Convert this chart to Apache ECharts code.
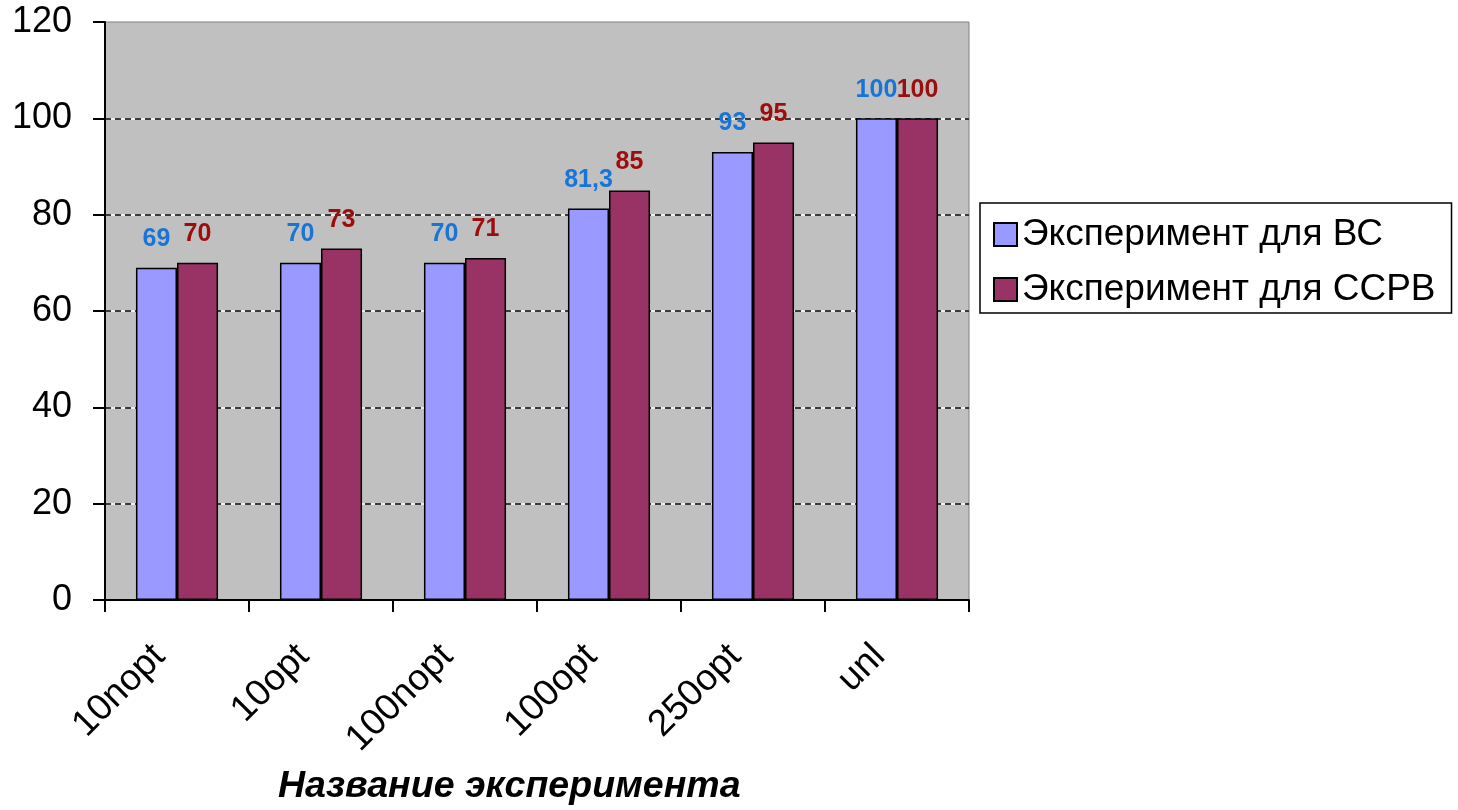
<!DOCTYPE html>
<html>
<head>
<meta charset="utf-8">
<script src="https://cdn.jsdelivr.net/npm/echarts@6/dist/echarts.min.js"></script>
<style>
  html, body { margin: 0; padding: 0; background: #ffffff; }
  #chart { width: 1458px; height: 810px; }
</style>
</head>
<body>
<div id="chart"></div>
<script>
// Experiment names along the category axis
const categories = ['10nopt', '10opt', '100nopt', '100opt', '250opt', 'unl'];
// Results per experiment
const seriesBC = [69, 70, 70, 81.3, 93, 100];
const seriesCCRB = [70, 73, 71, 85, 95, 100];
const seriesNames = ['Эксперимент для ВС', 'Эксперимент для ССРВ'];
const axisTitle = 'Название эксперимента';
// Value axis range
const yMin = 0, yMax = 120, yStep = 20;

const FONT = '"Liberation Sans", Arial, sans-serif';
const hideEnds = ['rgba(0,0,0,0)', '#000', '#000', '#000', '#000', '#000', 'rgba(0,0,0,0)'];
const whiteEnds = ['rgba(0,0,0,0)', '#fff', '#fff', '#fff', '#fff', '#fff', 'rgba(0,0,0,0)'];

const fmt = p => String(p.value).replace('.', ',');

const chart = echarts.init(document.getElementById('chart'), null, { renderer: 'canvas' });
chart.setOption({
  animation: false,
  backgroundColor: '#ffffff',
  textStyle: { fontFamily: FONT },
  title: {
    text: axisTitle,
    left: 278,
    top: 767,
    padding: 0,
    textStyle: { fontFamily: FONT, fontSize: 37.5, fontWeight: 'bold', fontStyle: 'italic', color: '#000', lineHeight: 40 }
  },
  legend: {
    orient: 'vertical',
    left: 980,
    top: 203,
    padding: [13, 16, 5, 13],
    itemWidth: 23,
    itemHeight: 23,
    itemGap: 18,
    itemTextGap: 20,
    icon: 'rect',
    backgroundColor: '#ffffff',
    borderColor: '#000',
    borderWidth: 1.5,
    borderRadius: 0,
    textStyle: { fontFamily: FONT, fontSize: 37, color: '#000', lineHeight: 36 },
    data: seriesNames
  },
  grid: {
    left: 105, top: 22, right: 489, bottom: 210,
    show: true,
    backgroundColor: '#c0c0c0',
    borderColor: '#808080',
    borderWidth: 1
  },
  xAxis: {
    type: 'category',
    data: categories,
    axisLine: { lineStyle: { color: '#000', width: 2 } },
    axisTick: { show: true, alignWithLabel: false, length: 12, lineStyle: { color: '#000', width: 2 } },
    axisLabel: { rotate: 45, interval: 0, margin: 33, padding: [0, 25, 0, 0], fontSize: 37, color: '#000', fontFamily: FONT },
    splitLine: { show: false }
  },
  yAxis: [
    {
      type: 'value',
      min: yMin, max: yMax, interval: yStep,
      z: 1,
      axisLine: { show: true, lineStyle: { color: '#000', width: 2 } },
      axisTick: { show: true, length: 12, lineStyle: { color: '#000', width: 2 } },
      axisLabel: { margin: 33, fontSize: 36, color: '#000', fontFamily: FONT },
      splitLine: { show: true, lineStyle: { color: hideEnds, width: 1.5, type: [6, 4] } }
    },
    {
      type: 'value',
      min: yMin, max: yMax, interval: yStep,
      z: 0,
      axisLine: { show: false },
      axisTick: { show: false },
      axisLabel: { show: false },
      splitLine: { show: true, lineStyle: { color: whiteEnds, width: 1.5, type: 'solid' } }
    }
  ],
  series: [
    {
      name: seriesNames[0],
      type: 'bar',
      data: seriesBC,
      barGap: '0%',
      barCategoryGap: '43%',
      itemStyle: { color: '#9999ff', borderColor: '#000', borderWidth: 1.5 },
      label: {
        show: true, position: 'top', distance: 16, formatter: fmt,
        fontFamily: FONT, fontSize: 25, fontWeight: 'bold', color: '#1874d6'
      }
    },
    {
      name: seriesNames[1],
      type: 'bar',
      data: seriesCCRB,
      barGap: '0%',
      barCategoryGap: '43%',
      itemStyle: { color: '#993366', borderColor: '#000', borderWidth: 1.5 },
      label: {
        show: true, position: 'top', distance: 16, formatter: fmt,
        fontFamily: FONT, fontSize: 25, fontWeight: 'bold', color: '#9c0d0d'
      }
    }
  ]
});
</script>
</body>
</html>
